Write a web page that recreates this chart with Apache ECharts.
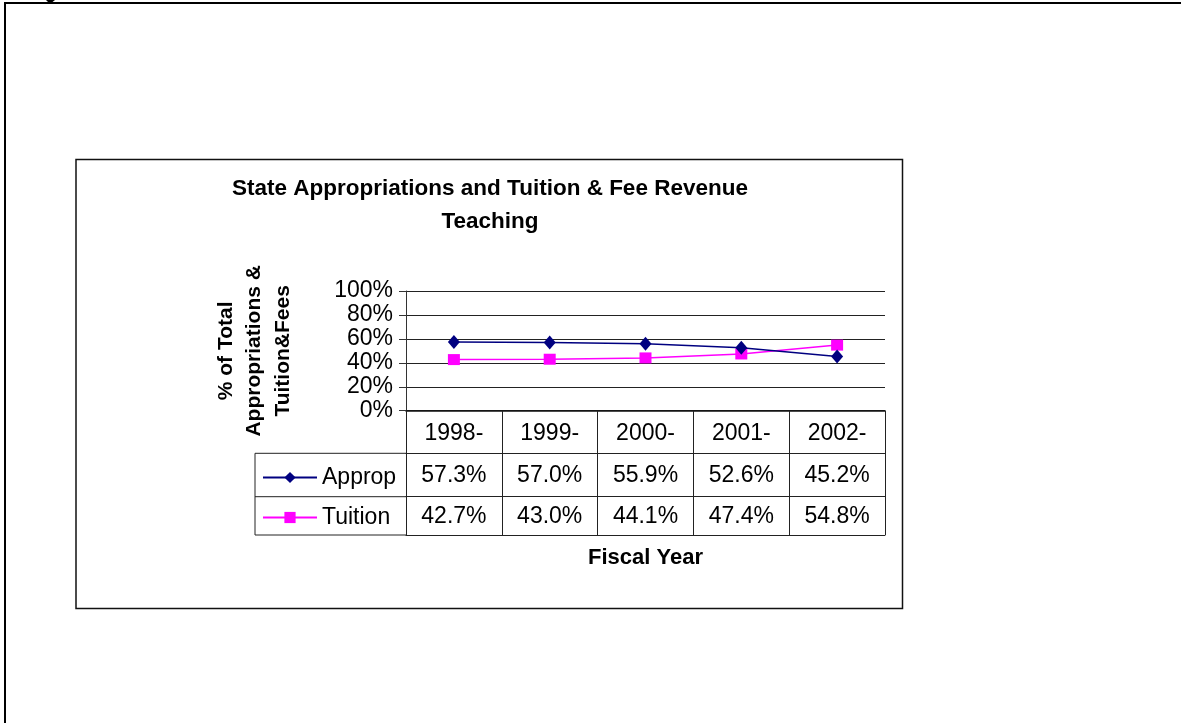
<!DOCTYPE html>
<html>
<head>
<meta charset="utf-8">
<title>State Appropriations and Tuition &amp; Fee Revenue</title>
<script src="https://cdn.jsdelivr.net/npm/echarts@6/dist/echarts.min.js"></script>
<style>
  html, body { margin: 0; padding: 0; background: #fff; }
  #main { width: 1181px; height: 723px; }
</style>
</head>
<body>
<div id="main"></div>
<script>
// dados
const fiscalYears = ['1998-', '1999-', '2000-', '2001-', '2002-'];
const appropValues = [57.3, 57.0, 55.9, 52.6, 45.2];
const tuitionValues = [42.7, 43.0, 44.1, 47.4, 54.8];
const yTicks = [0, 20, 40, 60, 80, 100];
const seriesNames = ['Approp', 'Tuition'];

const FONT = '"Liberation Sans", Arial, sans-serif';
const pct = v => v.toFixed(1) + '%';

// grade do grafico (em px)
const gridLeft = 406, gridTop = 291, gridRight = 885, gridBottom = 410.7;
const rowLines = [453.3, 496.7, 535];   // linhas da tabela abaixo do eixo
const tableLeft = 255;

const chart = echarts.init(document.getElementById('main'));

// eixo x "extra" so para mostrar a tabela de valores
function tableAxis(labels, offset, margin) {
    return {
        type: 'category',
        gridIndex: 0,
        position: 'bottom',
        offset: offset,
        data: labels,
        axisLine: { show: true, lineStyle: { color: '#222', width: 1 } },
        axisTick: { show: false },
        axisLabel: { show: true, interval: 0, margin: margin, color: '#000', fontSize: 23, fontFamily: FONT },
        splitLine: { show: false }
    };
}

const lastAxis = tableAxis(fiscalYears.map(() => ''), rowLines[2] - gridBottom, 0);
lastAxis.name = 'Fiscal Year';
lastAxis.nameLocation = 'middle';
lastAxis.nameGap = 12;
lastAxis.nameTextStyle = { color: '#000', fontSize: 22, fontWeight: 'bold', fontFamily: FONT };

const option = {
    animation: false,
    backgroundColor: '#fff',
    grid: {
        left: gridLeft,
        top: gridTop,
        right: 1181 - gridRight,
        bottom: 723 - gridBottom,
        containLabel: false
    },
    legend: {
        data: seriesNames,
        orient: 'vertical',
        left: 262,
        top: 466,
        padding: 0,
        itemWidth: 54,
        itemHeight: 14,
        itemGap: 17,
        textStyle: { color: '#000', fontSize: 23, lineHeight: 23, fontFamily: FONT }
    },
    xAxis: [
        {
            type: 'category',
            gridIndex: 0,
            position: 'bottom',
            data: fiscalYears,
            boundaryGap: true,
            axisLine: { show: true, lineStyle: { color: '#111', width: 1.5 } },
            axisTick: { show: true, interval: 0, length: rowLines[2] - gridBottom, lineStyle: { color: '#222', width: 1 } },
            axisLabel: { interval: 0, margin: 11, color: '#000', fontSize: 23, fontFamily: FONT }
        },
        tableAxis(appropValues.map(pct), rowLines[0] - gridBottom, 11),
        tableAxis(tuitionValues.map(pct), rowLines[1] - gridBottom, 8),
        lastAxis
    ],
    yAxis: {
        type: 'value',
        min: yTicks[0],
        max: yTicks[yTicks.length - 1],
        interval: yTicks[1] - yTicks[0],
        name: '% of Total\nAppropriations &\nTuition&Fees',
        nameLocation: 'middle',
        nameRotate: 90,
        nameGap: 109,
        nameTextStyle: { color: '#000', fontSize: 21, fontWeight: 'bold', lineHeight: 28.5, fontFamily: FONT, align: 'center' },
        axisLine: { show: true, lineStyle: { color: '#333', width: 1 } },
        axisTick: { show: true, length: 7, lineStyle: { color: '#333' } },
        axisLabel: { margin: 13, color: '#000', fontSize: 23, fontFamily: FONT, formatter: '{value}%' },
        splitLine: { show: true, lineStyle: { color: '#222', width: 1 } }
    },
    series: [
        {
            name: seriesNames[0],
            type: 'line',
            xAxisIndex: 0,
            data: appropValues,
            symbol: 'diamond',
            symbolSize: [12, 14],
            itemStyle: { color: '#000080' },
            lineStyle: { color: '#000080', width: 1.5 },
            z: 5
        },
        {
            name: seriesNames[1],
            type: 'line',
            xAxisIndex: 0,
            data: tuitionValues,
            symbol: 'rect',
            symbolSize: [12, 11],
            itemStyle: { color: '#ff00ff' },
            lineStyle: { color: '#ff00ff', width: 1.5 },
            z: 4
        }
    ],
    graphic: [
        // moldura da pagina
        { type: 'polyline', shape: { points: [[5, 723], [5, 3], [1181, 3]] }, style: { stroke: '#000', lineWidth: 2, fill: null } },
        { type: 'polygon', shape: { points: [[46, 0], [55, 0], [50, 4]] }, style: { fill: '#000' } },
        // caixa do grafico
        { type: 'rect', shape: { x: 76, y: 159.5, width: 826.5, height: 449 }, style: { stroke: '#111', lineWidth: 1.5, fill: null } },
        // titulo
        {
            type: 'text', x: 490, y: 172,
            style: {
                text: 'State Appropriations and Tuition & Fee Revenue\nTeaching',
                font: 'bold 22.5px ' + FONT, fill: '#000', align: 'center', lineHeight: 33
            }
        },
        // parte da tabela onde fica a legenda
        { type: 'line', shape: { x1: tableLeft, y1: rowLines[0], x2: gridLeft, y2: rowLines[0] }, style: { stroke: '#222', lineWidth: 1 } },
        { type: 'line', shape: { x1: tableLeft, y1: rowLines[1], x2: gridLeft, y2: rowLines[1] }, style: { stroke: '#222', lineWidth: 1 } },
        { type: 'line', shape: { x1: tableLeft, y1: rowLines[2], x2: gridLeft, y2: rowLines[2] }, style: { stroke: '#222', lineWidth: 1 } },
        { type: 'line', shape: { x1: tableLeft, y1: rowLines[0], x2: tableLeft, y2: rowLines[2] }, style: { stroke: '#222', lineWidth: 1 } }
    ]
};

chart.setOption(option);
</script>
</body>
</html>
